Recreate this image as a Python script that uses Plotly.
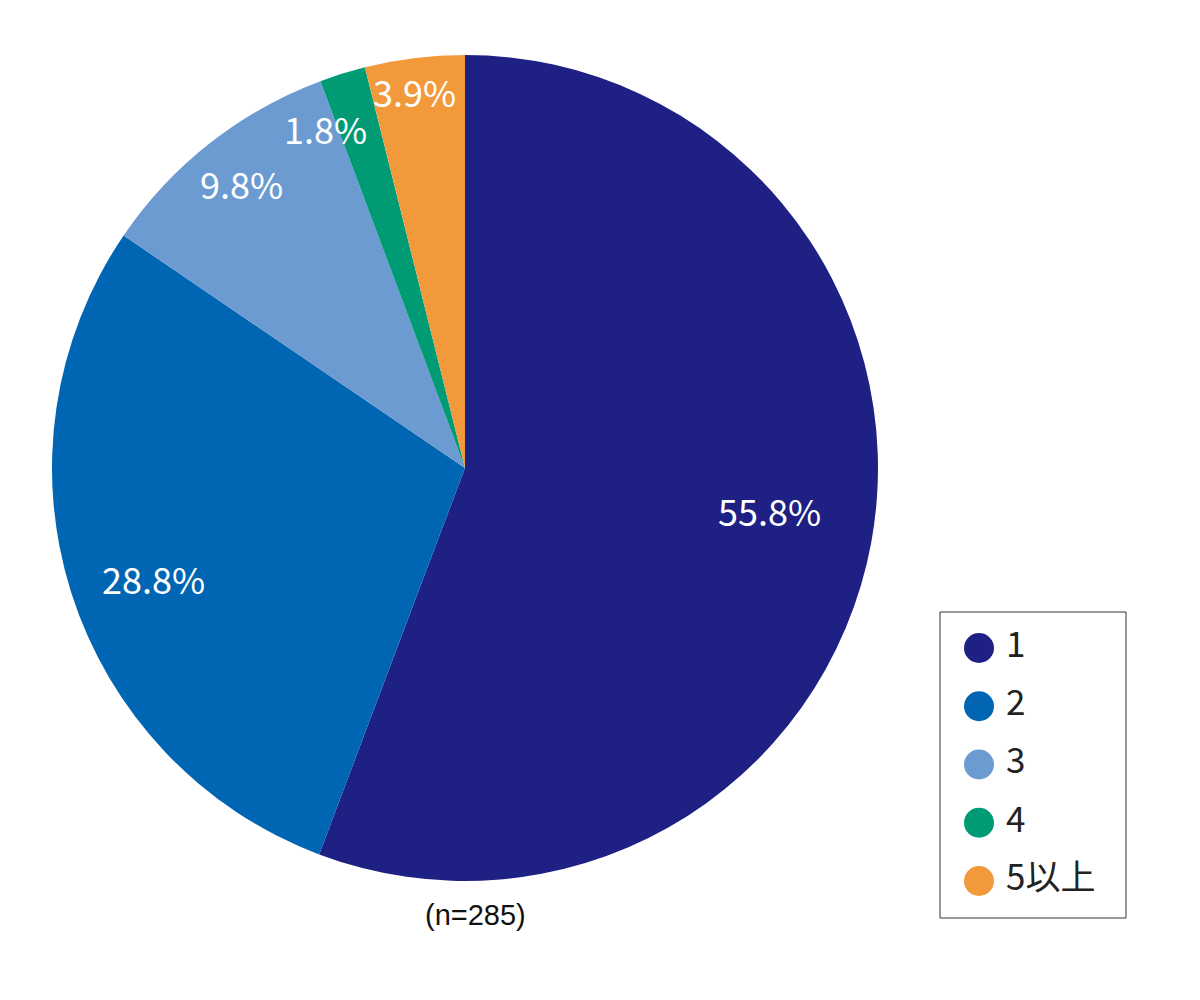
import numpy as np
import plotly.graph_objects as go

labels = ['1', '2', '3', '4', '5以上']
values = [55.8, 28.8, 9.8, 1.8, 3.9]
colors = ['#1e2084', '#0066b3', '#6b9bd1', '#009b74', '#f29a3b']
note = '(n=285)'

W, H = 1200, 1000
off = 8                                   # page body margin
cx, cy, r = 465 - off, 468 - off, 413     # pie centre / radius in px


def px2paper(x, y):
    return x / W, 1 - y / H


fig = go.Figure()
fig.add_trace(go.Pie(
    labels=labels, values=values, sort=False, direction='clockwise',
    marker=dict(colors=colors, line=dict(width=0)),
    textinfo='none', hoverinfo='label+percent', showlegend=False,
    domain=dict(x=[(cx - r) / W, (cx + r) / W], y=[1 - (cy + r) / H, 1 - (cy - r) / H]),
))

# percentage labels placed at the slice mid-angle
rad_f = [0.745, 0.80, 0.876, 0.89, 0.92]
nudge = [-2.5, -2, 0, -5, -0.7]
v = np.array(values)
mid = (np.cumsum(v) - v / 2) / v.sum() * 360
for i, val in enumerate(values):
    a = np.radians(mid[i] + nudge[i])
    ax, ay = px2paper(cx + rad_f[i] * r * np.sin(a), cy - rad_f[i] * r * np.cos(a))
    fig.add_annotation(x=ax, y=ay, xref='paper', yref='paper', xanchor='center', yanchor='middle',
                       text=f'{val:.1f}%', showarrow=False,
                       font=dict(size=36, color='white', family='Noto Sans CJK JP'))

nx, ny = px2paper(475 - off, 915 - off)
fig.add_annotation(x=nx, y=ny, xref='paper', yref='paper', xanchor='center', yanchor='middle',
                   text=note, showarrow=False,
                   font=dict(size=29, color='#111', family='Liberation Sans'))

# custom legend with large circles
lx0, lx1, ly0, ly1 = 940 - off, 1126 - off, 612 - off, 918 - off
idx = -np.arange(len(labels))
fig.add_trace(go.Scatter(x=[39] * len(labels), y=idx, mode='markers', xaxis='x2', yaxis='y2',
                         marker=dict(size=30, color=colors), showlegend=False, hoverinfo='skip'))
fig.add_trace(go.Scatter(x=[66] * len(labels), y=idx, mode='text', text=labels, xaxis='x2', yaxis='y2',
                         textposition='middle right', showlegend=False, hoverinfo='skip',
                         textfont=dict(size=35, color='#222', family='Noto Sans CJK JP')))

fig.add_shape(type='rect', xref='paper', yref='paper',
              x0=lx0 / W, x1=lx1 / W, y0=1 - ly1 / H, y1=1 - ly0 / H,
              line=dict(color='#333', width=1))

fig.update_layout(
    width=W, height=H, margin=dict(l=0, r=0, t=0, b=0),
    paper_bgcolor='white', plot_bgcolor='rgba(0,0,0,0)',
    xaxis=dict(visible=False), yaxis=dict(visible=False),
    xaxis2=dict(domain=[lx0 / W, lx1 / W], range=[0, 186], visible=False, fixedrange=True),
    yaxis2=dict(domain=[1 - ly1 / H, 1 - ly0 / H], range=[-4.635, 0.618], visible=False,
                fixedrange=True, anchor='x2'),
)

fig.write_html('out.html')
